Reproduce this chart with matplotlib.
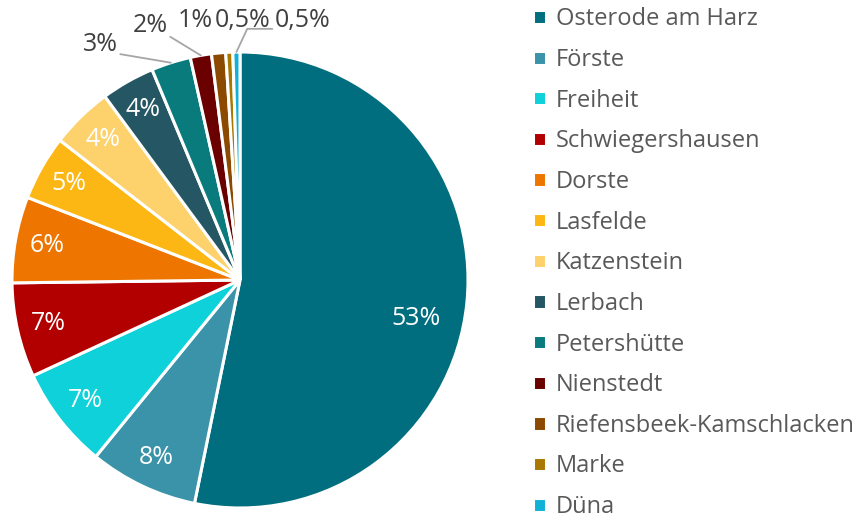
import matplotlib
matplotlib.use("Agg")
import matplotlib.pyplot as plt
import numpy as np

plt.rcParams['font.family'] = ['Open Sans', 'DejaVu Sans']

places = ["Osterode am Harz", "Förste", "Freiheit", "Schwiegershausen", "Dorste",
          "Lasfelde", "Katzenstein", "Lerbach", "Petershütte", "Nienstedt",
          "Riefensbeek-Kamschlacken", "Marke", "Düna"]
shares = [53.2, 7.7, 7.2, 6.7, 6.1, 4.6, 4.4, 3.8, 2.8, 1.5, 1.0, 0.5, 0.5]
colors = ["#006E7F", "#3A93A8", "#0ED1D9", "#B20000", "#EE7600", "#FDB714",
          "#FDD16B", "#245763", "#0A7B7C", "#6B0000", "#8B4A00", "#A87800", "#12B2D6"]


def fmt(v):
    if v >= 1:
        return f"{v:.0f}%"
    return f"{v:.1f}%".replace(".", ",")


# label positions for the small slices that sit outside the pie (axes data units)
outside = {8: (-0.614, 1.031), 9: (-0.395, 1.118), 10: (-0.195, 1.14),
           11: (0.013, 1.14), 12: (0.276, 1.14)}
leaders = {8: dict(relpos=(1.0, 0.15)), 9: dict(relpos=(1.0, 0.1)),
           12: dict(relpos=(0.0, 0.15), connectionstyle="angle,angleA=0,angleB=65,rad=0")}

fig = plt.figure(figsize=(8.61, 5.18), dpi=100)
cx, cy, r = 240, 280, 228
ax = fig.add_axes([(cx - r) / 861, (518 - cy - r) / 518, 2 * r / 861, 2 * r / 518])

wedges, _ = ax.pie(shares, colors=colors, startangle=90, counterclock=False,
                   wedgeprops=dict(edgecolor="white", linewidth=2.2))
ax.set_xlim(-1, 1)
ax.set_ylim(-1, 1)
ax.set_aspect("equal")

fs = 18
for i, (w, v) in enumerate(zip(wedges, shares)):
    mid = np.deg2rad((w.theta1 + w.theta2) / 2)
    if i in outside:
        tx, ty = outside[i]
        if i in leaders:
            opts = leaders[i]
            ax.annotate(fmt(v), xy=(np.cos(mid), np.sin(mid)), xytext=(tx, ty),
                        ha="center", va="center", fontsize=fs, color="#404040",
                        annotation_clip=False,
                        arrowprops=dict(arrowstyle="-", color="#A6A6A6", lw=1.3,
                                        shrinkA=0, shrinkB=0, relpos=opts["relpos"],
                                        connectionstyle=opts.get("connectionstyle", "arc3")))
        else:
            ax.text(tx, ty, fmt(v), ha="center", va="center", fontsize=fs,
                    color="#404040", clip_on=False)
    else:
        d = 0.86
        x, y = d * np.cos(mid), d * np.sin(mid)
        if i == 0:
            # the big slice's label sits a bit further in and lower
            x, y = 0.77, -0.17
        ax.text(x, y, fmt(v), ha="center", va="center", fontsize=fs, color="white")

fig.legend(wedges, places, loc="upper left", bbox_to_anchor=(531 / 861, 1 - 5 / 518),
           frameon=False, fontsize=17, labelcolor="#595959",
           handlelength=0.55, handleheight=0.55, handletextpad=0.4,
           labelspacing=0.705, borderaxespad=0, borderpad=0.1)

fig.savefig("out.png", dpi=100)
